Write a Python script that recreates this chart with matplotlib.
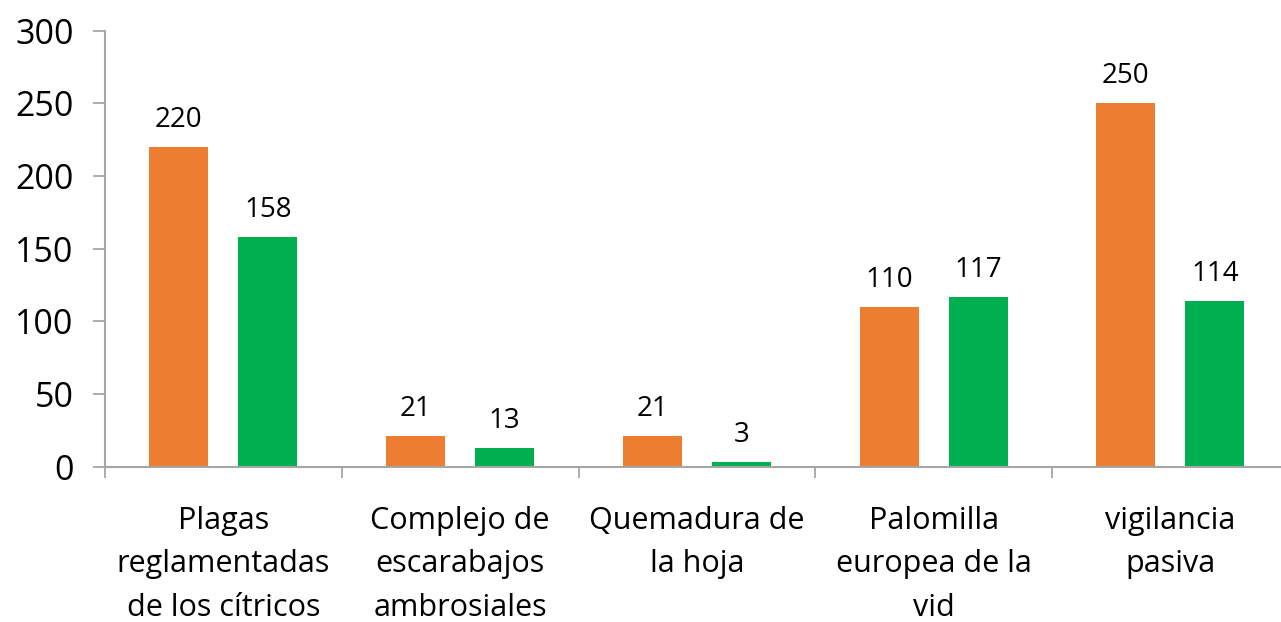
import matplotlib
matplotlib.use("Agg")
import matplotlib.pyplot as plt
import numpy as np

categories = ["Plagas\nreglamentadas\nde los cítricos",
              "Complejo de\nescarabajos\nambrosiales",
              "Quemadura de\nla hoja",
              "Palomilla\neuropea de la\nvid",
              "vigilancia\npasiva"]
serie_naranja = [220, 21, 21, 110, 250]
serie_verde = [158, 13, 3, 117, 114]

plt.rcParams['font.family'] = ['Open Sans', 'DejaVu Sans']

W, H = 1281, 622
fig = plt.figure(figsize=(W/100, H/100), dpi=100)
# el eje se sale un poco por la derecha, como en el original
ax = fig.add_axes([105/W, 1-466.7/H, 1183.75/W, 436/H])

x = np.arange(len(categories))
w = 0.249
off = 0.188
b1 = ax.bar(x - off, serie_naranja, width=w, color='#ED7D31')
b2 = ax.bar(x + off, serie_verde, width=w, color='#00B050')
for bars, vals in ((b1, serie_naranja), (b2, serie_verde)):
    for r, v in zip(bars, vals):
        ax.annotate(str(v), (r.get_x() + r.get_width()/2, v), xytext=(0, 14.4),
                    textcoords='offset points', ha='center', va='baseline', fontsize=20)

ax.set_xlim(-0.5, len(categories) - 0.5)
ax.set_ylim(0, 300)
ax.set_yticks(range(0, 301, 50))
ax.tick_params(axis='y', labelsize=24.5, length=8.6, width=1.3, color='#A6A6A6', pad=14)
ax.set_xticks(np.arange(-0.5, len(categories), 1))
ax.set_xticklabels([])
ax.tick_params(axis='x', length=8, width=1.3, color='#A6A6A6')
ax.set_xticks(x, minor=True)
ax.set_xticklabels(categories, minor=True, fontsize=22, linespacing=1.6)
ax.tick_params(axis='x', which='minor', length=0, pad=28)

for s in ('top', 'right'):
    ax.spines[s].set_visible(False)
for s in ('left', 'bottom'):
    ax.spines[s].set_color('#A6A6A6')
    ax.spines[s].set_linewidth(1.5)

fig.savefig('out.png', dpi=100)
